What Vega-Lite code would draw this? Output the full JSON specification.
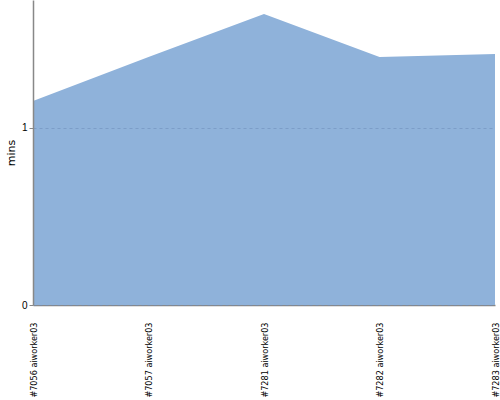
{
  "$schema": "https://vega.github.io/schema/vega-lite/v6.json",
  "autosize": "none",
  "width": 462,
  "height": 305,
  "padding": {"left": 33, "top": 0, "right": 5, "bottom": 95},
  "background": "white",
  "data": {"values": [
    {"job": "#7056 aiworker03", "mins": 1.153},
    {"job": "#7057 aiworker03", "mins": 1.401},
    {"job": "#7281 aiworker03", "mins": 1.644},
    {"job": "#7282 aiworker03", "mins": 1.401},
    {"job": "#7283 aiworker03", "mins": 1.418}
  ]},
  "mark": {"type": "area", "color": "#8fb2da", "opacity": 1},
  "encoding": {
    "x": {"field": "job", "type": "ordinal", "scale": {"type": "point", "padding": 0},
      "axis": {"title": null, "labelAngle": -90, "labelFontSize": 9, "labelFont": "DejaVu Sans Condensed", "labelColor": "#000", "ticks": false, "labelPadding": 17, "domainColor": "#888", "domainWidth": 1.5, "grid": false}},
    "y": {"field": "mins", "type": "quantitative", "scale": {"domain": [0, 1.723], "nice": false},
      "axis": {"title": "mins", "titleFont": "DejaVu Sans", "titleFontSize": 11, "titleFontWeight": "normal", "titleColor": "#000", "titlePadding": 5,
        "values": [0, 1], "labelFontSize": 10, "labelColor": "#000", "tickColor": "#888", "tickSize": 4, "domainColor": "#888", "domainWidth": 1.5,
        "grid": true, "gridColor": "#6a88b5", "gridOpacity": 0.5, "gridDash": [3, 3], "zindex": 1}}
  },
  "config": {"view": {"stroke": null}}
}
